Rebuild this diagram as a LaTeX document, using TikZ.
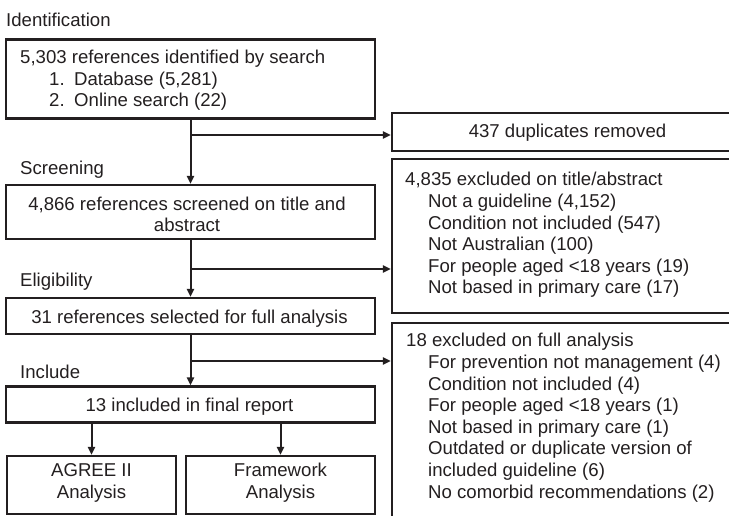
\documentclass[tikz,border=0pt]{standalone}
\usepackage{fontspec}
\setmainfont{Liberation Sans}
\usetikzlibrary{arrows.meta}
\definecolor{ink}{HTML}{231F20}
\begin{document}
\begin{tikzpicture}[x=1pt,y=-1pt,
  every node/.style={font=\fontsize{18.6}{21.6}\selectfont, text=ink},
  box/.style={draw=ink, line width=2.2pt, inner sep=0pt, rectangle},
  txt/.style={inner sep=0pt, align=left, anchor=base west},
  ctxt/.style={inner sep=0pt, align=center, anchor=base},
  lbl/.style={inner sep=0pt, anchor=base west},
  arr/.style={draw=ink, line width=2pt, -{Triangle[length=8pt,width=7pt]}}]
\useasboundingbox (0,0) rectangle (729,516);
\clip (0,0) rectangle (729,516);
% stage labels
\node[lbl] (lid) at (6,27) {Identification};
\node[lbl] (lsc) at (20,175) {Screening};
\node[lbl] (lel) at (20,287) {Eligibility};
\node[lbl] (lin) at (20,378) {Include};
% left column boxes
\node[box, minimum width=369pt, minimum height=79pt] (b1) at (190.5,79) {};
\node[txt] (t1) at (20,107) {5,303 references identified by search\\
  \hspace*{29pt}\makebox[25pt][l]{1.}Database (5,281)\\
  \hspace*{29pt}\makebox[25pt][l]{2.}Online search (22)};
\node[box, minimum width=369pt, minimum height=54pt] (b2) at (190.5,212) {};
\node[ctxt] (t2) at (187,232) {4,866 references screened on title and\\abstract};
\node[box, minimum width=369pt, minimum height=36pt] (b3) at (190.5,316) {};
\node[ctxt] (t3) at (189.5,323) {31 references selected for full analysis};
\node[box, minimum width=369pt, minimum height=36pt] (b4) at (190.5,404.5) {};
\node[ctxt] (t4) at (189.5,411) {13 included in final report};
\node[box, minimum width=169pt, minimum height=58pt] (a1) at (91.5,485) {};
\node[ctxt] (ta1) at (91.5,498) {AGREE II\\Analysis};
\node[box, minimum width=189pt, minimum height=58pt] (a2) at (280.5,485) {};
\node[ctxt] (ta2) at (280.5,498) {Framework\\Analysis};
% right column boxes
\node[box, minimum width=351pt, minimum height=38pt] (dup) at (567.5,132) {};
\node[ctxt] (td) at (567.5,138) {437 duplicates removed};
\node[box, minimum width=351pt, minimum height=154pt] (e1) at (567.5,236) {};
\node[txt] (te1) at (405,294) {4,835 excluded on title/abstract\\
  \hspace*{23pt}Not a guideline (4,152)\\
  \hspace*{23pt}Condition not included (547)\\
  \hspace*{23pt}Not Australian (100)\\
  \hspace*{23pt}For people aged <18 years (19)\\
  \hspace*{23pt}Not based in primary care (17)};
\node[box, minimum width=351pt, minimum height=220pt] (e2) at (567.5,433) {};
\node[txt] (te2) at (406,498) {18 excluded on full analysis\\
  \hspace*{22pt}For prevention not management (4)\\
  \hspace*{22pt}Condition not included (4)\\
  \hspace*{22pt}For people aged <18 years (1)\\
  \hspace*{22pt}Not based in primary care (1)\\
  \hspace*{22pt}Outdated or duplicate version of\\
  \hspace*{22pt}included guideline (6)\\
  \hspace*{22pt}No comorbid recommendations (2)};
% junctions
\coordinate (j1) at (190.5,135);
\coordinate (j2) at (190.5,269);
\coordinate (j3) at (190.5,361);
% connectors
\draw[arr] (b1.south) -- (b2.north);
\draw[arr] (j1) -- (j1 -| dup.west);
\draw[arr] (b2.south) -- (b3.north);
\draw[arr] (j2) -- (j2 -| e1.west);
\draw[arr] (b3.south) -- (b4.north);
\draw[arr] (j3) -- (j3 -| e2.west);
\draw[arr] (a1.north |- b4.south) -- (a1.north);
\draw[arr] (a2.north |- b4.south) -- (a2.north);
\end{tikzpicture}
\end{document}
